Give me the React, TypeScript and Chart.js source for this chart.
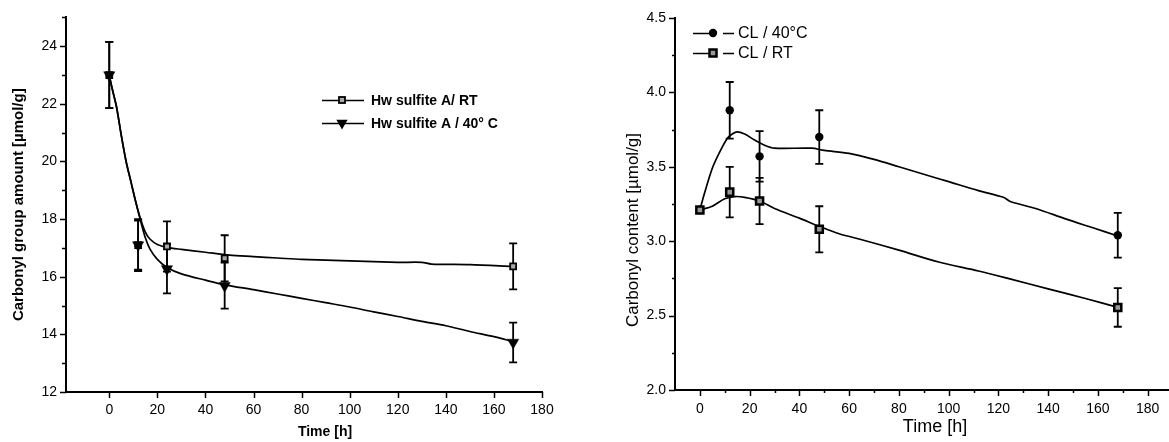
import { useEffect, useRef } from 'react';
import { Chart, registerables } from 'chart.js';
Chart.register(...registerables);

const FONT = '"Liberation Sans", Arial, Helvetica, sans-serif';

// ---------- Left panel data (Hw sulfite A) ----------
const hwTimes = [0, 12, 24, 48, 168];
const hwRT = [23.0, 17.1, 17.05, 16.64, 16.36];
const hwRTErr = [1.15, 0.85, 0.87, 0.8, 0.8];
const hw40 = [23.0, 17.1, 16.27, 15.69, 13.72];
const hw40Err = [1.15, 0.9, 0.85, 0.8, 0.69];

const hwRTFitT = [0, 1, 3, 5, 7, 9, 11, 13, 15, 17, 20, 24, 30, 40, 50, 60, 70, 80, 100, 120, 130, 134, 150, 168];
const hwRTFit = [23.0, 22.6, 21.9, 20.9, 20.0, 19.3, 18.6, 18.0, 17.55, 17.3, 17.12, 17.02, 16.95, 16.85, 16.75, 16.7, 16.65, 16.6, 16.55, 16.5, 16.5, 16.44, 16.42, 16.36];
const hw40FitT = [0, 1, 3, 5, 7, 9, 11, 13, 15, 17, 20, 24, 30, 40, 48, 60, 70, 80, 90, 100, 110, 120, 130, 140, 150, 160, 168];
const hw40Fit = [23.0, 22.6, 21.9, 20.9, 20.0, 19.3, 18.6, 17.95, 17.35, 16.95, 16.6, 16.32, 16.1, 15.88, 15.72, 15.55, 15.4, 15.25, 15.1, 14.95, 14.78, 14.62, 14.45, 14.3, 14.1, 13.92, 13.75];

const leftXTicks = [0, 20, 40, 60, 80, 100, 120, 140, 160, 180];
const leftYTicks = [12, 14, 16, 18, 20, 22, 24];
const leftYMinor = [13, 15, 17, 19, 21, 23, 25];

// ---------- Right panel data (CL) ----------
const clTimes = [0, 12, 24, 48, 168];
const cl40 = [3.21, 3.88, 3.57, 3.70, 3.04];
const cl40Err = [0, 0.19, 0.17, 0.18, 0.15];
const clRT = [3.21, 3.33, 3.27, 3.08, 2.555];
const clRTErr = [0, 0.17, 0.155, 0.155, 0.13];

const cl40FitT = [0, 2, 5, 8, 11, 13, 15, 18, 22, 26, 30, 45, 50, 60, 70, 80, 90, 100, 112, 122, 125, 135, 147, 158, 168];
const cl40Fit = [3.21, 3.33, 3.49, 3.6, 3.69, 3.72, 3.735, 3.72, 3.68, 3.645, 3.625, 3.625, 3.61, 3.59, 3.55, 3.5, 3.45, 3.4, 3.34, 3.295, 3.265, 3.22, 3.15, 3.09, 3.035];
const clRTFitT = [0, 5, 10, 14, 18, 24, 30, 40, 48, 56, 64, 80, 96, 112, 125, 140, 155, 168];
const clRTFit = [3.21, 3.235, 3.285, 3.3, 3.295, 3.27, 3.22, 3.155, 3.1, 3.05, 3.015, 2.94, 2.86, 2.8, 2.745, 2.68, 2.615, 2.555];

const rightXTicks = [0, 20, 40, 60, 80, 100, 120, 140, 160, 180];
const rightXMinor = [10, 30, 50, 70, 90, 110, 130, 150, 170, 190];
const rightYTicks = [2.0, 2.5, 3.0, 3.5, 4.0, 4.5];
const rightYMinor = [2.25, 2.75, 3.25, 3.75, 4.25];

const pts = (xs: number[], ys: number[]) => xs.map((x, i) => ({ x, y: ys[i] }));

// ---------- plugins ----------
const errorBarPlugin = {
  id: 'errorBars',
  beforeDatasetsDraw(chart: any, _a: any, opts: any) {
    const ctx = chart.ctx;
    const xs = chart.scales.x;
    const ys = chart.scales.y;
    ctx.save();
    ctx.strokeStyle = '#000';
    ctx.lineWidth = opts.lineWidth || 1.6;
    const cap = opts.cap || 4;
    chart.data.datasets.forEach((ds: any) => {
      const errs = ds.errors;
      if (!errs) return;
      ds.data.forEach((p: any, j: number) => {
        const e = errs[j];
        if (!e) return;
        const x = xs.getPixelForValue(p.x);
        const y1 = ys.getPixelForValue(p.y - e);
        const y2 = ys.getPixelForValue(p.y + e);
        ctx.beginPath();
        ctx.moveTo(x, y1);
        ctx.lineTo(x, y2);
        ctx.moveTo(x - cap, y1);
        ctx.lineTo(x + cap, y1);
        ctx.moveTo(x - cap, y2);
        ctx.lineTo(x + cap, y2);
        ctx.stroke();
      });
    });
    ctx.restore();
  },
};

const tickMarkPlugin = {
  id: 'tickMarks',
  afterDraw(chart: any, _a: any, opts: any) {
    const ctx = chart.ctx;
    const a = chart.chartArea;
    const xs = chart.scales.x;
    const ys = chart.scales.y;
    ctx.save();
    ctx.strokeStyle = '#000';
    ctx.lineWidth = opts.width || 1.5;
    ctx.beginPath();
    (opts.xMajor || []).forEach((v: number) => {
      const p = Math.round(xs.getPixelForValue(v)) + 0.5;
      ctx.moveTo(p, a.bottom);
      ctx.lineTo(p, a.bottom + opts.majorLen);
    });
    (opts.xMinor || []).forEach((v: number) => {
      const p = Math.round(xs.getPixelForValue(v)) + 0.5;
      ctx.moveTo(p, a.bottom);
      ctx.lineTo(p, a.bottom + opts.minorLen);
    });
    (opts.yMajor || []).forEach((v: number) => {
      const p = Math.round(ys.getPixelForValue(v)) + 0.5;
      ctx.moveTo(a.left, p);
      ctx.lineTo(a.left - opts.majorLen, p);
    });
    (opts.yMinor || []).forEach((v: number) => {
      const p = Math.round(ys.getPixelForValue(v)) + 0.5;
      ctx.moveTo(a.left, p);
      ctx.lineTo(a.left - opts.minorLen, p);
    });
    ctx.stroke();
    ctx.restore();
  },
};

const axisTitlePlugin = {
  id: 'axisTitles',
  afterDraw(chart: any, _a: any, opts: any) {
    const ctx = chart.ctx;
    ctx.save();
    ctx.fillStyle = '#000';
    ctx.textAlign = 'center';
    ctx.textBaseline = 'middle';
    (opts.items || []).forEach((t: any) => {
      ctx.save();
      ctx.font = t.font;
      ctx.translate(t.x, t.y);
      if (t.rotate) ctx.rotate(-Math.PI / 2);
      ctx.fillText(t.text, 0, 0);
      ctx.restore();
    });
    ctx.restore();
  },
};

function drawMarker(ctx: any, kind: string, x: number, y: number) {
  ctx.save();
  ctx.fillStyle = '#000';
  ctx.strokeStyle = '#000';
  if (kind === 'tri') {
    const r = 6.5;
    ctx.beginPath();
    ctx.moveTo(x - r * 0.866, y - r * 0.5);
    ctx.lineTo(x + r * 0.866, y - r * 0.5);
    ctx.lineTo(x, y + r);
    ctx.closePath();
    ctx.fill();
  } else if (kind === 'sqSmall') {
    ctx.fillStyle = '#aaa';
    ctx.lineWidth = 1.8;
    ctx.fillRect(x - 3, y - 3, 6, 6);
    ctx.strokeRect(x - 3, y - 3, 6, 6);
  } else if (kind === 'sq') {
    ctx.fillStyle = '#999';
    ctx.lineWidth = 2.5;
    ctx.fillRect(x - 3.5, y - 3.5, 7, 7);
    ctx.strokeRect(x - 3.5, y - 3.5, 7, 7);
  } else if (kind === 'circ') {
    ctx.beginPath();
    ctx.arc(x, y, 4.2, 0, Math.PI * 2);
    ctx.fill();
  }
  ctx.restore();
}

const legendPlugin = {
  id: 'customLegend',
  afterDraw(chart: any, _a: any, opts: any) {
    const ctx = chart.ctx;
    ctx.save();
    ctx.font = opts.font;
    ctx.fillStyle = '#000';
    ctx.textBaseline = 'middle';
    ctx.textAlign = 'left';
    (opts.items || []).forEach((it: any) => {
      ctx.strokeStyle = '#000';
      ctx.lineWidth = 1.6;
      ctx.beginPath();
      it.segs.forEach((s: number[]) => {
        ctx.moveTo(s[0], it.y + 0.5);
        ctx.lineTo(s[1], it.y + 0.5);
      });
      ctx.stroke();
      drawMarker(ctx, it.marker, it.mx, it.y);
      ctx.fillText(it.label, it.tx, it.y + 1);
    });
    ctx.restore();
  },
};

function lineDs(xs: number[], ys: number[]) {
  return {
    data: pts(xs, ys),
    showLine: true,
    borderColor: '#000',
    borderWidth: 1.7,
    pointRadius: 0,
    tension: 0.3,
    fill: false,
    order: 3,
  };
}

function makeLeft(canvas: HTMLCanvasElement) {
  return new Chart(canvas, {
    type: 'scatter',
    data: {
      datasets: [
        lineDs(hwRTFitT, hwRTFit) as any,
        lineDs(hw40FitT, hw40Fit) as any,
        {
          label: 'Hw sulfite A/ RT',
          data: pts(hwTimes, hwRT),
          errors: hwRTErr,
          showLine: false,
          pointStyle: 'rect',
          pointRadius: 4.2,
          pointBackgroundColor: '#aaa',
          pointBorderColor: '#000',
          pointBorderWidth: 1.8,
          order: 2,
        } as any,
        {
          label: 'Hw sulfite A / 40° C',
          data: pts(hwTimes, hw40),
          errors: hw40Err,
          showLine: false,
          pointStyle: 'triangle',
          rotation: 180,
          pointRadius: 6.5,
          pointBackgroundColor: '#000',
          pointBorderColor: '#000',
          pointBorderWidth: 0.5,
          order: 1,
        } as any,
      ],
    },
    options: {
      responsive: false,
      animation: false,
      devicePixelRatio: 1,
      events: [],
      layout: { padding: { left: 0, right: 38, top: 16, bottom: 0 } },
      plugins: {
        legend: { display: false },
        tooltip: { enabled: false },
        errorBars: { lineWidth: 1.8, cap: 4 },
        tickMarks: { xMajor: leftXTicks, yMajor: leftYTicks, yMinor: leftYMinor, majorLen: 6, minorLen: 4, width: 1.5 },
        axisTitles: {
          items: [{ text: 'Time [h]', font: `bold 14px ${FONT}`, x: 325, y: 432 }],
        },
        customLegend: {
          font: `bold 14px ${FONT}`,
          items: [
            { label: 'Hw sulfite A/ RT', marker: 'sqSmall', y: 100, segs: [[322, 338], [346, 364]], mx: 342, tx: 371 },
            { label: 'Hw sulfite A / 40° C', marker: 'tri', y: 123, segs: [[322, 364]], mx: 342, tx: 371 },
          ],
        },
      } as any,
      scales: {
        x: {
          type: 'linear',
          min: -18,
          max: 180,
          afterBuildTicks: (s: any) => { s.ticks = leftXTicks.map((v) => ({ value: v })); },
          afterFit: (s: any) => { s.height = 50; },
          grid: { display: false, drawTicks: false },
          border: { display: true, color: '#000', width: 2 },
          ticks: { color: '#000', font: { family: FONT, size: 14 }, padding: 10, maxRotation: 0, autoSkip: false },
          title: { display: false },
        },
        y: {
          type: 'linear',
          min: 12,
          max: 25,
          afterBuildTicks: (s: any) => { s.ticks = leftYTicks.map((v) => ({ value: v })); },
          afterFit: (s: any) => { s.width = 66; },
          grid: { display: false, drawTicks: false },
          border: { display: true, color: '#000', width: 2 },
          ticks: { color: '#000', font: { family: FONT, size: 14 }, padding: 9 },
          title: { display: true, text: 'Carbonyl group amount [µmol/g]', color: '#000', font: { family: FONT, size: 15, weight: 'bold' }, padding: { top: 10, bottom: 0 } },
        },
      },
    } as any,
    plugins: [errorBarPlugin, tickMarkPlugin, legendPlugin, axisTitlePlugin],
  });
}

const RX = 580;

function makeRight(canvas: HTMLCanvasElement) {
  return new Chart(canvas, {
    type: 'scatter',
    data: {
      datasets: [
        lineDs(cl40FitT, cl40Fit) as any,
        lineDs(clRTFitT, clRTFit) as any,
        {
          label: 'CL / 40°C',
          data: pts(clTimes, cl40),
          errors: cl40Err,
          showLine: false,
          pointStyle: 'circle',
          pointRadius: 4.2,
          pointBackgroundColor: '#000',
          pointBorderColor: '#000',
          pointBorderWidth: 0,
          order: 2,
        } as any,
        {
          label: 'CL / RT',
          data: pts(clTimes, clRT),
          errors: clRTErr,
          showLine: false,
          pointStyle: 'rect',
          pointRadius: 5,
          pointBackgroundColor: '#999',
          pointBorderColor: '#000',
          pointBorderWidth: 2.5,
          order: 1,
        } as any,
      ],
    },
    options: {
      responsive: false,
      animation: false,
      devicePixelRatio: 1,
      events: [],
      layout: { padding: { left: 0, right: 5, top: 18, bottom: 0 } },
      plugins: {
        legend: { display: false },
        tooltip: { enabled: false },
        errorBars: { lineWidth: 1.8, cap: 4 },
        tickMarks: { xMajor: rightXTicks, xMinor: rightXMinor, yMajor: rightYTicks, yMinor: rightYMinor, majorLen: 6, minorLen: 3, width: 1.5 },
        axisTitles: {
          items: [
            { text: 'Time [h]', font: `18px ${FONT}`, x: 935 - RX, y: 427 },
            { text: 'Carbonyl content [µmol/g]', font: `17px ${FONT}`, x: 633 - RX, y: 230, rotate: true },
          ],
        },
        customLegend: {
          font: `16px ${FONT}`,
          items: [
            { label: 'CL / 40°C', marker: 'circ', y: 33, segs: [[693 - RX, 709 - RX], [723 - RX, 734 - RX]], mx: 713 - RX, tx: 738 - RX },
            { label: 'CL / RT', marker: 'sq', y: 53, segs: [[693 - RX, 709 - RX], [723 - RX, 734 - RX]], mx: 713 - RX, tx: 738 - RX },
          ],
        },
      } as any,
      scales: {
        x: {
          type: 'linear',
          min: -10,
          max: 190,
          afterBuildTicks: (s: any) => { s.ticks = rightXTicks.map((v) => ({ value: v })); },
          afterFit: (s: any) => { s.height = 52; },
          grid: { display: false, drawTicks: false },
          border: { display: true, color: '#000', width: 2 },
          ticks: { color: '#000', font: { family: FONT, size: 14 }, padding: 11, maxRotation: 0, autoSkip: false },
          title: { display: false },
        },
        y: {
          type: 'linear',
          min: 2.0,
          max: 4.5,
          afterBuildTicks: (s: any) => { s.ticks = rightYTicks.map((v) => ({ value: v })); },
          afterFit: (s: any) => { s.width = 95; },
          grid: { display: false, drawTicks: false },
          border: { display: true, color: '#000', width: 2 },
          ticks: { color: '#000', font: { family: FONT, size: 14 }, padding: 9, callback: (v: any) => Number(v).toFixed(1) },
          title: { display: false },
        },
      },
    } as any,
    plugins: [errorBarPlugin, tickMarkPlugin, legendPlugin, axisTitlePlugin],
  });
}

export default function App() {
  const leftRef = useRef<HTMLCanvasElement | null>(null);
  const rightRef = useRef<HTMLCanvasElement | null>(null);
  useEffect(() => {
    const l = makeLeft(leftRef.current!);
    const r = makeRight(rightRef.current!);
    return () => {
      l.destroy();
      r.destroy();
    };
  }, []);
  return (
    <div style={{ position: 'absolute', left: 0, top: 0, width: 1169, height: 442, overflow: 'hidden', background: '#fff' }}>
      <canvas ref={leftRef} width={580} height={442} style={{ position: 'absolute', left: 0, top: 0, width: 580, height: 442 }} />
      <canvas ref={rightRef} width={600} height={442} style={{ position: 'absolute', left: RX, top: 0, width: 600, height: 442 }} />
    </div>
  );
}
